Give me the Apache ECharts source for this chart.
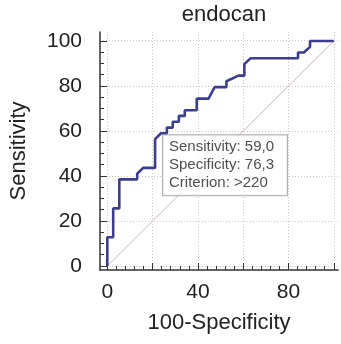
<!DOCTYPE html>
<html>
<head>
<meta charset="utf-8">
<script src="https://cdn.jsdelivr.net/npm/echarts@6/dist/echarts.min.js"></script>
<style>
  html, body { margin: 0; padding: 0; background: #fff; }
  #chart { width: 341px; height: 344px; }
</style>
</head>
<body>
<div id="chart"></div>
<script>
// ROC curve points (100-Specificity, Sensitivity)
const fpr = [0, 0, 2.6, 2.6, 5.3, 5.3, 13.2, 13.2, 15.8, 21.1, 21.1, 23.7, 26.3, 26.3, 28.9, 28.9, 31.6, 31.6, 34.2, 34.2, 39.5, 39.5, 44.7, 47.4, 52.6, 52.6, 57.9, 60.5, 60.5, 63.2, 84.2, 84.2, 86.8, 89.5, 89.5, 100];
const tpr = [0, 12.8, 12.8, 25.6, 25.6, 38.5, 38.5, 41.0, 43.6, 43.6, 56.4, 59.0, 59.0, 61.5, 61.5, 64.1, 64.1, 66.7, 66.7, 69.2, 69.2, 74.4, 74.4, 79.5, 79.5, 82.1, 84.6, 84.6, 89.7, 92.3, 92.3, 94.9, 94.9, 97.4, 100, 100];

// criterion point and its box
const criterion = [23.7, 59.0];
const boxLines = ["Sensitivity: 59,0", "Specificity: 76,3", "Criterion: >220"];

// axis ticks & labels
const xMajor = [0, 20, 40, 60, 80, 100];
const xMinor = [0, 4, 8, 12, 16, 20, 24, 28, 32, 36, 40, 44, 48, 52, 56, 60, 64, 68, 72, 76, 80, 84, 88, 92, 96, 100];
const xLabels = [0, 40, 80];
const yMajor = [0, 20, 40, 60, 80, 100];
const yMinor = [0, 5, 10, 15, 20, 25, 30, 35, 40, 45, 50, 55, 60, 65, 70, 75, 80, 85, 90, 95, 100];
const yLabels = [0, 20, 40, 60, 80, 100];

const FONT = "Arial, 'Liberation Sans', sans-serif";
const X_MIN = -3.22, X_MAX = 101.85;
const Y_MIN = -1.78, Y_MAX = 104;

const chart = echarts.init(document.getElementById("chart"));

const gridLine = { show: true, lineStyle: { color: "#c9c9c9", type: [1, 2], width: 1 } };
const hidden = {
  axisLine: { show: false },
  axisTick: { show: false },
  axisLabel: { show: false },
  splitLine: { show: false },
};

chart.setOption({
  animation: false,
  title: {
    text: "endocan",
    left: 219,
    top: -1,
    textAlign: "center",
    textStyle: { fontFamily: FONT, fontSize: 22, fontWeight: "normal", color: "#222" },
  },
  grid: [
    { left: 100, top: 32, right: 3, bottom: 74 },
    // gridline-only grids spanning 0..100 of the data range
    { left: 107.3, top: 32, right: 7.2, bottom: 74 },
    { left: 100, top: 40.7, right: 3, bottom: 78 },
  ],
  xAxis: [
    {
      type: "value",
      position: "bottom",
      min: X_MIN,
      max: X_MAX,
      name: "100-Specificity",
      nameLocation: "middle",
      nameGap: 42,
      nameTextStyle: { fontFamily: FONT, fontSize: 22, color: "#222" },
      axisLine: { show: true, onZero: false, lineStyle: { color: "#333", width: 1.5 } },
      axisTick: { show: true, inside: true, length: 7, customValues: xMajor, lineStyle: { color: "#333" } },
      axisLabel: { customValues: xLabels, margin: 12, fontFamily: FONT, fontSize: 21, color: "#222" },
      splitLine: { show: false },
    },
    {
      type: "value",
      position: "bottom",
      min: X_MIN,
      max: X_MAX,
      axisLine: { show: false, onZero: false },
      axisTick: { show: true, inside: true, length: 4, customValues: xMinor, lineStyle: { color: "#333" } },
      axisLabel: { show: false },
      splitLine: { show: false },
    },
    { type: "value", gridIndex: 1, min: 0, max: 100, interval: 20, ...hidden, splitLine: gridLine },
    { type: "value", gridIndex: 2, min: 0, max: 100, ...hidden },
  ],
  yAxis: [
    {
      type: "value",
      position: "left",
      min: Y_MIN,
      max: Y_MAX,
      name: "Sensitivity",
      nameLocation: "middle",
      nameGap: 70,
      nameTextStyle: { fontFamily: FONT, fontSize: 22, color: "#222" },
      axisLine: { show: true, onZero: false, lineStyle: { color: "#333", width: 1.5 } },
      axisTick: { show: true, inside: true, length: 7, customValues: yMajor, lineStyle: { color: "#333" } },
      axisLabel: { customValues: yLabels, margin: 18, fontFamily: FONT, fontSize: 21, color: "#222" },
      splitLine: { show: false },
    },
    {
      type: "value",
      position: "left",
      min: Y_MIN,
      max: Y_MAX,
      axisLine: { show: false, onZero: false },
      axisTick: { show: true, inside: true, length: 4, customValues: yMinor, lineStyle: { color: "#333" } },
      axisLabel: { show: false },
      splitLine: { show: false },
    },
    { type: "value", gridIndex: 1, min: 0, max: 100, ...hidden },
    { type: "value", gridIndex: 2, min: 0, max: 100, interval: 20, ...hidden, splitLine: gridLine },
  ],
  series: [
    {
      type: "line",
      data: [[0, 0], [100, 100]],
      symbol: "none",
      lineStyle: { color: "#cbb7b7", width: 1 },
      silent: true,
    },
    {
      type: "line",
      data: fpr.map((x, i) => [x, tpr[i]]),
      symbol: "none",
      lineStyle: { color: "#3d3d8f", width: 2.6 },
      z: 3,
    },
    {
      type: "scatter",
      data: [criterion],
      symbolSize: 0,
      z: 5,
      label: {
        show: true,
        position: [2, 2],
        align: "left",
        verticalAlign: "top",
        formatter: boxLines.join("\n"),
        fontFamily: FONT,
        fontSize: 15,
        lineHeight: 18,
        color: "#222",
        backgroundColor: "#fff",
        borderColor: "#9a9a9a",
        borderWidth: 1,
        padding: [3, 13, 3, 6],
      },
    },
  ],
});
</script>
</body>
</html>
